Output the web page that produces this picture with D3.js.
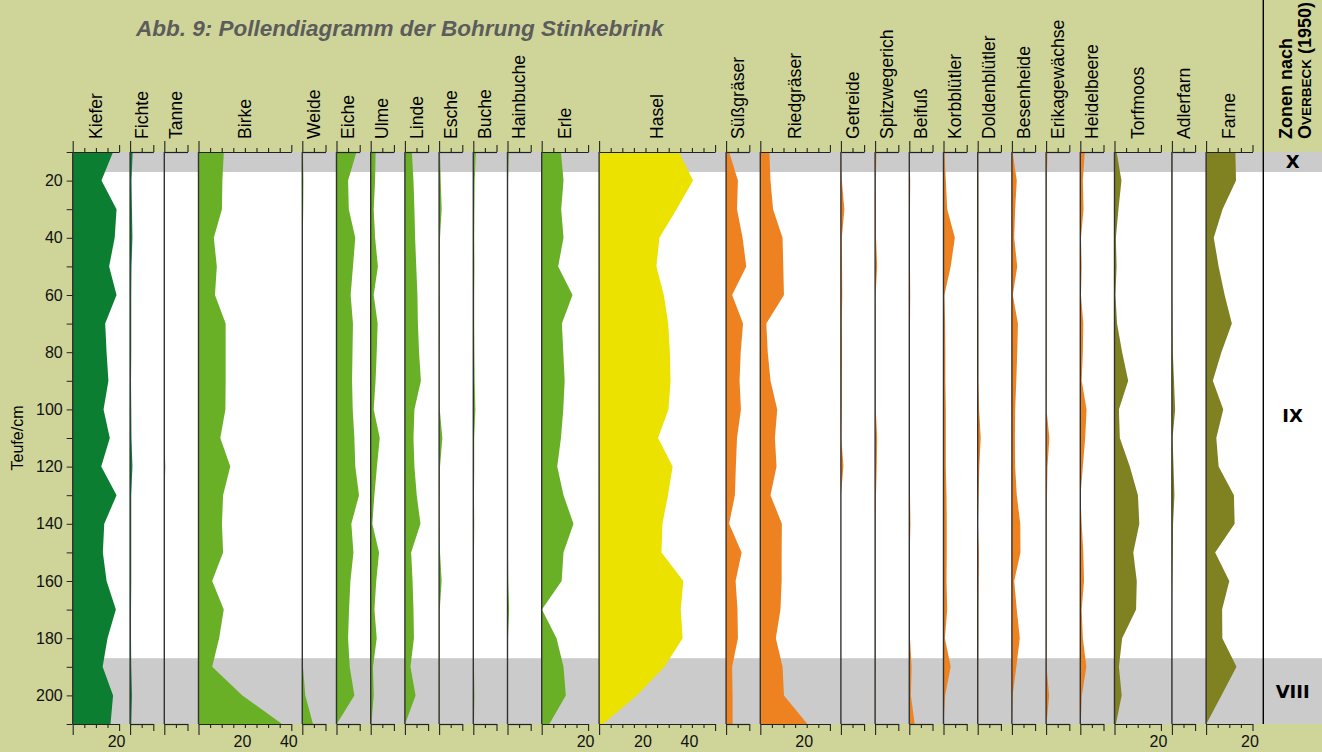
<!DOCTYPE html>
<html>
<head>
<meta charset="utf-8">
<script src="https://cdn.jsdelivr.net/npm/d3@7"></script>
<style>
  body { margin: 0; background: #cfd599; }
  svg { display: block; font-family: "Liberation Sans", Arial, Helvetica, sans-serif; }
</style>
</head>
<body>
<svg id="chart" width="1322" height="752"></svg>
<script>
// Sample depths (cm)
const depths = [10, 20, 30, 40, 50, 60, 70, 80, 90, 100, 110, 120, 130, 140, 150, 160, 170, 180, 190, 200, 210];

// Taxa, axis maximum (%) and group
const taxa = ["Kiefer", "Fichte", "Tanne", "Birke", "Weide", "Eiche", "Ulme", "Linde", "Esche", "Buche", "Hainbuche", "Erle",
              "Hasel", "Süßgräser", "Riedgräser", "Getreide", "Spitzwegerich", "Beifuß", "Korbblütler", "Doldenblütler",
              "Besenheide", "Erikagewächse", "Heidelbeere", "Torfmoos", "Adlerfarn", "Farne"];
const axisMax = [20, 10, 10, 40, 10, 10, 10, 10, 10, 10, 10, 20, 50, 10, 30, 10, 10, 10, 10, 10, 10, 10, 10, 20, 10, 20];
const groups = ["nadel", "nadel", "nadel", "laub", "laub", "laub", "laub", "laub", "laub", "laub", "laub", "laub",
                "hasel", "kraut", "kraut", "kraut", "kraut", "kraut", "kraut", "kraut", "kraut", "kraut", "kraut", "spore", "spore", "spore"];

// Pollen percentages, one value per depth
const kiefer = [17.4, 12.4, 18.9, 18.1, 15.7, 18.9, 14, 14.6, 15.4, 13.3, 16, 12.3, 18.9, 13.6, 13, 14.6, 18.6, 15, 12.9, 17.4, 16.3];
const fichte = [1.1, 0.6, 0.8, 1.0, 0.6, 0.5, 0.5, 0.5, 0.4, 0.5, 0.6, 1.0, 0.5, 0.5, 0.5, 0.5, 0.4, 0.4, 0.5, 0.8, 0.5];
const tanne = [0, 0, 0, 0, 0, 0, 0, 0, 0, 0, 0.1, 0.4, 0.1, 0, 0, 0, 0, 0, 0, 0, 0];
const birke = [10.9, 10.3, 10.1, 6.6, 7.9, 7.1, 11.7, 11.7, 11.7, 11.6, 9.4, 13.7, 10.6, 10.1, 10.6, 5.9, 10.9, 8.9, 5.9, 18.9, 36];
const weide = [0.3, 0.5, 0.4, 0.2, 0.1, 0.1, 0.1, 0.1, 0.1, 0.1, 0.1, 0.2, 0.2, 0.2, 0.3, 0.1, 0.1, 0.2, 0.3, 1.3, 4.6];
const eiche = [8.6, 5, 5.3, 8.1, 7.1, 6.1, 7.1, 6.9, 6.7, 7, 7.7, 8.1, 9.7, 6.4, 7.3, 6, 5.4, 5, 5.7, 7.7, 0.1];
const ulme = [2.1, 1.9, 1.3, 1.9, 3.1, 1.3, 3, 2.6, 2.1, 1.3, 3.9, 2.7, 1.6, 0.7, 3.6, 2.4, 1.6, 2.6, 1, 1.3, 0.3];
const linde = [3, 3.7, 4.1, 4.4, 4.9, 5.4, 5.6, 6.1, 6.9, 4.1, 3.7, 4.1, 5.1, 6.7, 2.7, 3.3, 3.7, 3.9, 2.4, 4.6, 0.1];
const esche = [0.4, 0.7, 1.1, 0.4, 0.3, 0.3, 0.4, 0.3, 0.3, 0.3, 1.4, 0.4, 0.3, 0.3, 0.4, 1.1, 0.3, 0.3, 0.2, 0.3, 0.2];
const buche = [1.1, 0.6, 0.5, 0.4, 0.5, 0.4, 0.4, 0.5, 0.6, 0.9, 0.4, 0.4, 0.3, 0.4, 0.3, 0.3, 0.3, 0.3, 0.3, 0.5, 0.3];
const hainbuche = [0.6, 0.2, 0.2, 0.1, 0.1, 0.1, 0.1, 0.1, 0.1, 0.1, 0.1, 0.1, 0.1, 0.1, 0.2, 0.3, 0.7, 0.2, 0.1, 0.1, 0.1];
const erle = [8.3, 9.4, 8.4, 9.4, 7.1, 13.3, 8.7, 9.3, 9.9, 9.3, 8.3, 6.7, 9.4, 13.7, 9.4, 8.6, 0.1, 6.4, 9.4, 10.4, 3.3];
const hasel = [34.4, 40.5, 33.4, 26, 24.7, 27.9, 29.8, 30.5, 30.8, 29.9, 25.4, 31.7, 29.7, 27.3, 26.9, 36.3, 35.2, 36, 28.2, 16.3, 1.7];
const suessgraeser = [1.3, 5.1, 4.7, 7.1, 8.7, 2.6, 7.3, 6.3, 5.8, 6.4, 4.7, 4.2, 3.8, 1.3, 6.7, 4.1, 4.9, 5.1, 2.6, 2.8, 2.8];
const riedgraeser = [3.9, 4.4, 5.5, 9.6, 9.9, 10.2, 2.6, 3.2, 4.4, 7.3, 6.3, 7, 4.4, 9.3, 9.2, 9.2, 8.7, 6.7, 9.6, 10.2, 20.3];
const getreide = [0, 0.4, 1.5, 0.4, 0.5, 0.6, 0.4, 0.5, 0.4, 0.4, 0.2, 1.1, 0, 0, 0, 0, 0, 0, 0, 0, 0];
const spitzwegerich = [0.6, 0.3, 0.4, 0.4, 0.9, 0.2, 0.3, 0.3, 0.3, 0.3, 0.9, 0.7, 0.4, 0.3, 0.3, 0.3, 0.3, 0.3, 0.3, 0.2, 0.2];
const beifuss = [0, 0.4, 0.3, 0.2, 0.3, 0.4, 0.3, 0.3, 0.3, 0.3, 0.3, 0.3, 0.3, 0.5, 0.2, 0.2, 0.3, 0.3, 1, 0.7, 2.3];
const korbbluetler = [0.4, 1, 1.6, 4.9, 3.1, 0.4, 0.7, 0.8, 0.8, 1, 1, 1, 1.3, 1.4, 1.4, 1.3, 1.6, 0.6, 3.1, 0.7, 0];
const doldenbluetler = [0.2, 0.3, 0.3, 0.3, 0.3, 0.2, 0.3, 0.3, 0.3, 0.6, 1.3, 0.7, 0.4, 0.1, 0.5, 0.4, 0.3, 0.3, 0.2, 0.2, 0.2];
const besenheide = [0.3, 2.1, 1.4, 1, 2.3, 0.4, 2.6, 2.3, 1.9, 1.4, 1.3, 1.4, 2.1, 3.6, 3.7, 1, 2.1, 3.4, 1.9, 0.3, 0];
const erikagewaechse = [0.6, 0.3, 0.3, 0.3, 0.3, 0.3, 0.3, 0.3, 0.3, 0.2, 1.4, 0.6, 0.4, 0.3, 0.3, 0.3, 0.3, 0.3, 0.2, 1.3, 0.2];
const heidelbeere = [1.9, 1.1, 1.4, 0.3, 0.6, 0.3, 1.3, 1.1, 0.6, 2.7, 2.1, 1.1, 0.1, 0.6, 1.3, 1.6, 0.6, 1.1, 2.6, 0.7, 0.2];
const torfmoos = [0.9, 3, 1.7, 0.6, 0.9, 0.4, 1.1, 3.3, 5.9, 1.9, 2.3, 6.6, 10.1, 10.7, 8.1, 9.6, 9.3, 3.3, 1.9, 3.1, 0.6];
const adlerfarn = [0.2, 0.2, 0.2, 0.2, 0.2, 0.2, 0.3, 0.4, 0.9, 1.4, 0.3, 0.7, 1.1, 0.5, 0.4, 0.2, 0.1, 0.1, 0.1, 0.1, 0.1];
const farne = [12.6, 12.9, 7.1, 3.3, 5.4, 8, 11.1, 6.6, 2.9, 7.4, 4.4, 5.4, 12, 12.3, 3.9, 10, 6.9, 7, 13.1, 6.6, 0.1];

const series = [kiefer, fichte, tanne, birke, weide, eiche, ulme, linde, esche, buche, hainbuche, erle,
                hasel, suessgraeser, riedgraeser, getreide, spitzwegerich, beifuss, korbbluetler, doldenbluetler,
                besenheide, erikagewaechse, heidelbeere, torfmoos, adlerfarn, farne];

// Pollen zones after Overbeck (1950)
const zoneNames = ["X", "IX", "VIII"];
const zoneTop = [10, 17, 187];
const zoneBottom = [17, 187, 210];
const zoneShaded = [true, false, true];

const groupColor = { nadel: "#0b7e31", laub: "#69b026", hasel: "#ebe200", kraut: "#ee8220", spore: "#808121" };

const W = 1322, H = 752;
const plotLeft = 72.7, plotTop = 152, plotBottom = 724;
const pxPerPct = 2.32, gap = 11;
const zoneLine = 1263.3;

const svg = d3.select("#chart");

const y = d3.scaleLinear().domain([10, 210]).range([plotTop, plotBottom]);

// plot background + zone bands
svg.append("rect").attr("x", plotLeft).attr("y", plotTop)
  .attr("width", W - plotLeft).attr("height", plotBottom - plotTop).attr("fill", "#fff");
zoneNames.forEach((z, i) => {
  if (!zoneShaded[i]) return;
  svg.append("rect")
    .attr("x", plotLeft)
    .attr("width", W - plotLeft)
    .attr("y", y(zoneTop[i]))
    .attr("height", y(zoneBottom[i]) - y(zoneTop[i]))
    .attr("fill", "#cbcbcb");
});

// title
svg.append("text")
  .attr("x", 136)
  .attr("y", 36)
  .style("font-size", "22.5px")
  .style("font-weight", "bold")
  .style("font-style", "italic")
  .attr("fill", "#5c5c5c")
  .text("Abb. 9: Pollendiagramm der Bohrung Stinkebrink");

// panels
let x0 = plotLeft;
taxa.forEach((name, i) => {
  const max = axisMax[i];
  const x = d3.scaleLinear().domain([0, max]).range([x0, x0 + max * pxPerPct]);
  const pts = depths.map((d, j) => ({ depth: d, v: series[i][j] }));

  const area = d3.area()
    .y(d => y(d.depth))
    .x0(x(0))
    .x1(d => x(d.v));

  svg.append("path")
    .datum(pts)
    .attr("d", area)
    .attr("fill", groupColor[groups[i]]);

  const tickVals = d3.range(0, max + 1, 5);
  const tickLen = v => v === 0 ? 11 : (v === max ? 7 : 4);

  const topAxis = svg.append("g")
    .attr("transform", `translate(0,${plotTop})`)
    .call(d3.axisTop(x).tickValues(tickVals).tickSizeOuter(0).tickFormat(""));
  topAxis.selectAll(".tick line").attr("y2", v => -tickLen(v));

  const botAxis = svg.append("g")
    .attr("transform", `translate(0,${plotBottom})`)
    .call(d3.axisBottom(x).tickValues(tickVals).tickSizeOuter(0)
      .tickFormat(v => (v > 0 && v % 20 === 0) ? v : ""));
  botAxis.selectAll(".tick line").attr("y2", v => tickLen(v));
  botAxis.selectAll(".tick text")
    .attr("y", 12)
    .attr("dx", -3)
    .style("font-size", "16px")
    .style("font-family", "'Liberation Sans', Arial, sans-serif")
    .attr("fill", "#111");

  [topAxis, botAxis].forEach(g => {
    g.select(".domain").attr("stroke", "#222").attr("stroke-width", 1.2);
    g.selectAll(".tick line").attr("stroke", "#222").attr("stroke-width", 1.1);
  });

  // baseline
  svg.append("line")
    .attr("x1", x(0)).attr("x2", x(0))
    .attr("y1", plotTop).attr("y2", plotBottom)
    .attr("stroke", "#333")
    .attr("stroke-width", 1.4);

  // taxon label
  const cx = (x(0) + x(max)) / 2;
  svg.append("text")
    .attr("transform", `translate(${cx + 6},139) rotate(-90)`)
    .style("font-size", "17.6px")
    .attr("fill", "#000")
    .text(name);

  x0 += max * pxPerPct + gap;
});

// depth axis
const yAxis = svg.append("g")
  .attr("transform", `translate(${plotLeft},0)`)
  .call(d3.axisLeft(y).tickValues(depths).tickSize(6).tickSizeOuter(0)
    .tickFormat(d => (d % 20 === 0 && d > 10 && d < 210) ? d : ""));
yAxis.select(".domain").remove();
yAxis.selectAll(".tick line").attr("stroke", "#222");
yAxis.selectAll(".tick text")
  .attr("x", -10)
  .style("font-size", "16px")
  .style("font-family", "'Liberation Sans', Arial, sans-serif")
  .attr("fill", "#111");

svg.append("text")
  .attr("transform", `translate(23,${(plotTop + plotBottom) / 2}) rotate(-90)`)
  .attr("text-anchor", "middle")
  .style("font-size", "16px")
  .text("Teufe/cm");

// zone column
svg.append("line")
  .attr("x1", zoneLine).attr("x2", zoneLine)
  .attr("y1", 0).attr("y2", plotBottom)
  .attr("stroke", "#000").attr("stroke-width", 1.4);

const zoneHead = svg.append("g").style("font-weight", "bold");
zoneHead.append("text")
  .attr("transform", `translate(1292,139) rotate(-90)`)
  .style("font-size", "18px")
  .text("Zonen nach");
const ov = zoneHead.append("text")
  .attr("transform", `translate(1311,139) rotate(-90)`)
  .style("font-size", "18px");
ov.append("tspan").text("O");
ov.append("tspan").style("font-size", "13.5px").text("VERBECK");
ov.append("tspan").text(" (1950)");

svg.selectAll(".zone-label")
  .data(zoneNames)
  .enter().append("text")
  .attr("x", (zoneLine + W) / 2)
  .attr("y", (z, i) => (y(zoneTop[i]) + y(zoneBottom[i])) / 2)
  .attr("dy", "0.36em")
  .attr("text-anchor", "middle")
  .style("font-size", "18px")
  .style("font-weight", "900")
  .style("font-family", "'DejaVu Sans', sans-serif")
  .text(z => z);
</script>
</body>
</html>
